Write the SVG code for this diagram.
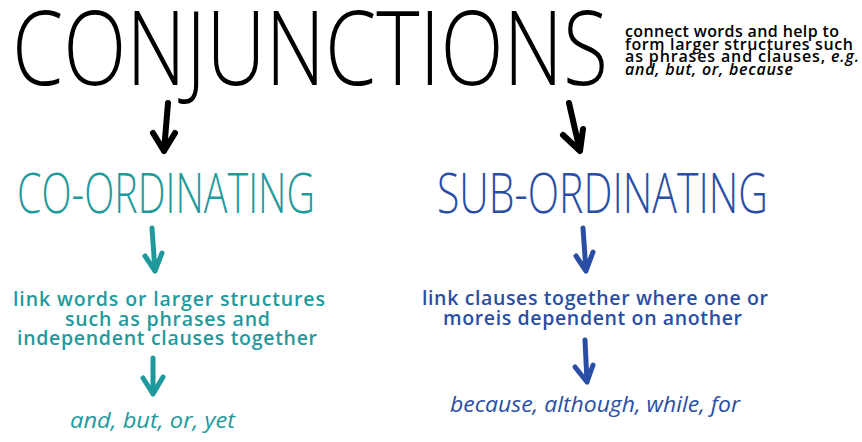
<svg xmlns="http://www.w3.org/2000/svg" width="862" height="442" viewBox="0 0 862 442">
<style>
.title{font-family:"Open Sans","DejaVu Sans",sans-serif;font-weight:300;fill:#000}
.head{font-family:"Open Sans","DejaVu Sans",sans-serif;font-weight:300}
.desc{font-family:"Open Sans","Noto Sans",sans-serif;font-weight:600}
.hand{font-family:"Open Sans","DejaVu Sans",sans-serif;font-style:italic;font-weight:400}
.teal{fill:#1f9a9c}
.blue{fill:#2a4ea4}
.arr{fill:none;stroke-linecap:round;stroke-linejoin:round}
</style>
<rect width="862" height="442" fill="#fff"/>
<g id="conjunctions">
<text class="title" x="12" y="85" font-size="104" textLength="596" lengthAdjust="spacingAndGlyphs">CONJUNCTIONS</text>
<text class="desc" font-size="16" fill="#000" lengthAdjust="spacingAndGlyphs">
<tspan x="625" y="37" textLength="214">connect words and help to</tspan>
<tspan x="625" y="49.7" textLength="228">form larger structures such</tspan>
<tspan x="625" y="62.4" textLength="234">as phrases and clauses, <tspan font-style="italic">e.g.</tspan></tspan>
<tspan x="625" y="75" font-style="italic" textLength="168">and, but, or, because</tspan>
</text>
</g>
<g id="coordinating">
<text class="head teal" x="17" y="213" font-size="55" textLength="298" lengthAdjust="spacingAndGlyphs">CO-ORDINATING</text>
</g>
<g id="subordinating">
<text class="head blue" x="437" y="213" font-size="55" textLength="331" lengthAdjust="spacingAndGlyphs">SUB-ORDINATING</text>
</g>
<g id="coord-desc">
<text class="desc teal" font-size="19.5" lengthAdjust="spacingAndGlyphs">
<tspan x="13" y="306" textLength="312">link words or larger structures</tspan>
<tspan x="65" y="325.5" textLength="205">such as phrases and</tspan>
<tspan x="17" y="345" textLength="300">independent clauses together</tspan>
</text>
</g>
<g id="sub-desc">
<text class="desc blue" font-size="19.5" lengthAdjust="spacingAndGlyphs">
<tspan x="422" y="305" textLength="346">link clauses together where one or</tspan>
<tspan x="443" y="325" textLength="299">moreis dependent on another</tspan>
</text>
</g>
<g id="coord-examples">
<text class="hand teal" x="70" y="428" font-size="22" textLength="165" lengthAdjust="spacingAndGlyphs">and, but, or, yet</text>
</g>
<g id="sub-examples">
<text class="hand blue" x="450" y="412" font-size="22" textLength="290" lengthAdjust="spacingAndGlyphs">because, although, while, for</text>
</g>
<g id="connectors">
<path class="arr" stroke="#000" stroke-width="6" d="M168,103 L164,151 M153,133 L164,151 L175,133"/>
<path class="arr" stroke="#000" stroke-width="6" d="M569,103 L580,151 M563,135 L580,151 L583,129"/>
<path class="arr" stroke="#1f9a9c" stroke-width="5" d="M152,228 L155,271 M145,256 L155,271 L162,253"/>
<path class="arr" stroke="#2a4ea4" stroke-width="5" d="M583,228 L586,271 M576,256 L586,271 L593,252"/>
<path class="arr" stroke="#1f9a9c" stroke-width="5" d="M153,358 L153,394 M143,378 L153,394 L163,377"/>
<path class="arr" stroke="#2a4ea4" stroke-width="5" d="M585,340 L587,382 M575,367 L587,382 L593,365"/>
</g>
</svg>
